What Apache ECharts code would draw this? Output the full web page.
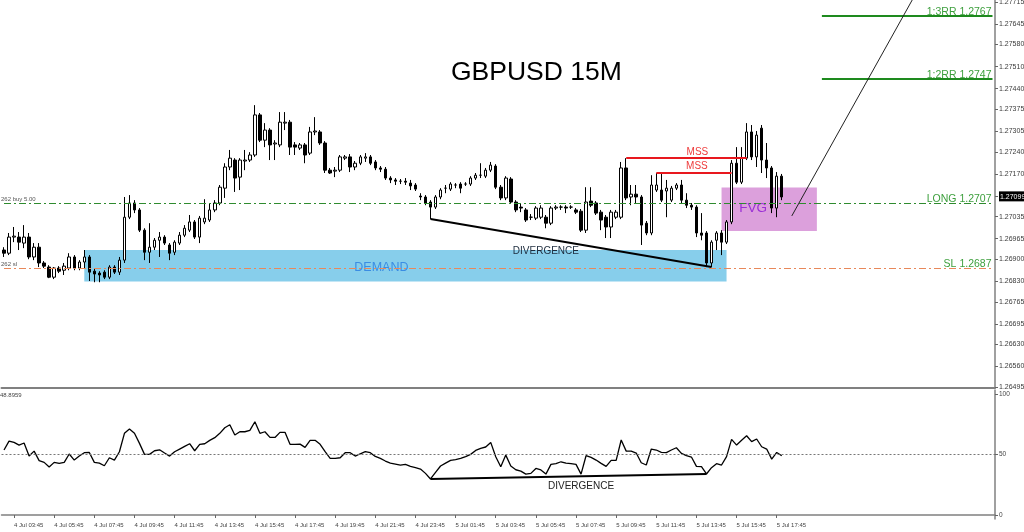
<!DOCTYPE html>
<html>
<head>
<meta charset="utf-8">
<script src="https://cdn.jsdelivr.net/npm/echarts@6/dist/echarts.min.js"></script>
<style>
  html, body { margin: 0; padding: 0; background: #fff; }
  #chart { width: 1024px; height: 532px; }
</style>
</head>
<body>
<div id="chart"></div>
<script>
// GBPUSD 15M bars from 4 Jul 03:15 to 5 Jul 18:00, each [open, close, low, high]
const candles = [
  [1.26929, 1.26919, 1.26907, 1.26938], [1.26919, 1.26970, 1.26913, 1.26983], [1.26970, 1.26973, 1.26954, 1.27002],
  [1.26970, 1.26954, 1.26929, 1.26986], [1.26951, 1.26970, 1.26935, 1.27008], [1.26970, 1.26907, 1.26900, 1.26983],
  [1.26907, 1.26938, 1.26897, 1.26951], [1.26938, 1.26888, 1.26875, 1.26951], [1.26888, 1.26878, 1.26872, 1.26894],
  [1.26875, 1.26843, 1.26840, 1.26881], [1.26843, 1.26872, 1.26837, 1.26875], [1.26872, 1.26862, 1.26856, 1.26878],
  [1.26865, 1.26878, 1.26850, 1.26888], [1.26872, 1.26907, 1.26865, 1.26919], [1.26907, 1.26872, 1.26865, 1.26913],
  [1.26872, 1.26891, 1.26865, 1.26897], [1.26891, 1.26907, 1.26872, 1.26929], [1.26907, 1.26859, 1.26831, 1.26913],
  [1.26862, 1.26853, 1.26827, 1.26869], [1.26856, 1.26850, 1.26827, 1.26862], [1.26859, 1.26843, 1.26837, 1.26865],
  [1.26843, 1.26875, 1.26837, 1.26881], [1.26875, 1.26859, 1.26853, 1.26881], [1.26859, 1.26897, 1.26850, 1.26907],
  [1.26897, 1.27033, 1.26888, 1.27097], [1.27033, 1.27078, 1.27027, 1.27103], [1.27078, 1.27056, 1.27046, 1.27087],
  [1.27056, 1.26992, 1.26986, 1.27062], [1.26992, 1.26922, 1.26897, 1.26998], [1.26922, 1.26938, 1.26888, 1.27014],
  [1.26938, 1.26960, 1.26929, 1.26967], [1.26960, 1.26970, 1.26907, 1.26986], [1.26970, 1.26951, 1.26945, 1.26976],
  [1.26945, 1.26919, 1.26897, 1.26951], [1.26922, 1.26954, 1.26913, 1.26960], [1.26951, 1.26976, 1.26945, 1.26986],
  [1.26976, 1.26998, 1.26970, 1.27008], [1.26992, 1.27018, 1.26986, 1.27040], [1.27018, 1.26970, 1.26964, 1.27024],
  [1.26970, 1.27030, 1.26951, 1.27037], [1.27018, 1.27030, 1.27011, 1.27090], [1.27024, 1.27056, 1.27018, 1.27078],
  [1.27056, 1.27078, 1.27049, 1.27087], [1.27078, 1.27128, 1.27071, 1.27135], [1.27125, 1.27192, 1.27094, 1.27204],
  [1.27192, 1.27220, 1.27182, 1.27246], [1.27214, 1.27157, 1.27113, 1.27220], [1.27160, 1.27214, 1.27119, 1.27220],
  [1.27211, 1.27214, 1.27182, 1.27246], [1.27214, 1.27230, 1.27208, 1.27239], [1.27230, 1.27357, 1.27224, 1.27388],
  [1.27357, 1.27277, 1.27271, 1.27363], [1.27277, 1.27309, 1.27255, 1.27331], [1.27309, 1.27262, 1.27214, 1.27315],
  [1.27265, 1.27268, 1.27214, 1.27277], [1.27262, 1.27334, 1.27255, 1.27366], [1.27331, 1.27334, 1.27309, 1.27366],
  [1.27334, 1.27255, 1.27230, 1.27341], [1.27262, 1.27255, 1.27230, 1.27271], [1.27252, 1.27262, 1.27246, 1.27268],
  [1.27262, 1.27230, 1.27204, 1.27268], [1.27236, 1.27303, 1.27230, 1.27319], [1.27303, 1.27306, 1.27293, 1.27350],
  [1.27303, 1.27268, 1.27262, 1.27309], [1.27268, 1.27182, 1.27173, 1.27274], [1.27182, 1.27173, 1.27170, 1.27189],
  [1.27179, 1.27182, 1.27160, 1.27192], [1.27182, 1.27224, 1.27176, 1.27230], [1.27220, 1.27224, 1.27214, 1.27230],
  [1.27224, 1.27192, 1.27176, 1.27233], [1.27192, 1.27204, 1.27182, 1.27211], [1.27204, 1.27224, 1.27198, 1.27230],
  [1.27220, 1.27224, 1.27208, 1.27236], [1.27224, 1.27204, 1.27198, 1.27230], [1.27208, 1.27189, 1.27182, 1.27214],
  [1.27189, 1.27185, 1.27176, 1.27195], [1.27185, 1.27157, 1.27151, 1.27192], [1.27157, 1.27151, 1.27141, 1.27163],
  [1.27151, 1.27147, 1.27135, 1.27157], [1.27147, 1.27147, 1.27138, 1.27154], [1.27147, 1.27144, 1.27135, 1.27157],
  [1.27141, 1.27132, 1.27119, 1.27151], [1.27135, 1.27122, 1.27116, 1.27141], [1.27100, 1.27097, 1.27087, 1.27109],
  [1.27097, 1.27078, 1.27071, 1.27103], [1.27081, 1.27065, 1.27027, 1.27087], [1.27065, 1.27097, 1.27059, 1.27103],
  [1.27097, 1.27119, 1.27090, 1.27125], [1.27125, 1.27125, 1.27109, 1.27135], [1.27122, 1.27138, 1.27116, 1.27144],
  [1.27135, 1.27135, 1.27125, 1.27141], [1.27138, 1.27125, 1.27109, 1.27144], [1.27138, 1.27138, 1.27132, 1.27144],
  [1.27138, 1.27157, 1.27132, 1.27163], [1.27157, 1.27166, 1.27151, 1.27173], [1.27166, 1.27166, 1.27157, 1.27204],
  [1.27163, 1.27182, 1.27157, 1.27189], [1.27182, 1.27198, 1.27176, 1.27208], [1.27195, 1.27128, 1.27122, 1.27201],
  [1.27128, 1.27094, 1.27087, 1.27135], [1.27094, 1.27157, 1.27087, 1.27163], [1.27154, 1.27081, 1.27075, 1.27160],
  [1.27081, 1.27056, 1.27049, 1.27087], [1.27065, 1.27062, 1.27049, 1.27078], [1.27056, 1.27024, 1.27018, 1.27062],
  [1.27033, 1.27033, 1.27024, 1.27043], [1.27030, 1.27062, 1.27024, 1.27068], [1.27033, 1.27062, 1.27027, 1.27071],
  [1.27033, 1.27014, 1.26998, 1.27040], [1.27014, 1.27062, 1.27008, 1.27068], [1.27062, 1.27065, 1.27056, 1.27071],
  [1.27065, 1.27065, 1.27056, 1.27071], [1.27065, 1.27062, 1.27046, 1.27071], [1.27065, 1.27065, 1.27059, 1.27071],
  [1.27056, 1.27049, 1.27043, 1.27062], [1.27052, 1.26992, 1.26986, 1.27059], [1.26992, 1.27081, 1.26983, 1.27128],
  [1.27084, 1.27071, 1.27065, 1.27128], [1.27078, 1.27046, 1.27040, 1.27084], [1.27049, 1.27024, 1.26992, 1.27056],
  [1.27033, 1.27002, 1.26967, 1.27040], [1.27002, 1.27049, 1.26967, 1.27056], [1.27033, 1.27049, 1.27027, 1.27056],
  [1.27033, 1.27189, 1.27027, 1.27208], [1.27189, 1.27094, 1.27087, 1.27220], [1.27097, 1.27106, 1.27071, 1.27135],
  [1.27106, 1.27097, 1.27078, 1.27135], [1.27097, 1.27008, 1.26945, 1.27103], [1.27014, 1.26983, 1.26976, 1.27021],
  [1.26983, 1.27135, 1.26976, 1.27166], [1.27119, 1.27135, 1.27113, 1.27173], [1.27119, 1.27087, 1.27081, 1.27170],
  [1.27116, 1.27125, 1.27033, 1.27151], [1.27087, 1.27125, 1.27081, 1.27132], [1.27125, 1.27135, 1.27119, 1.27141],
  [1.27135, 1.27087, 1.27078, 1.27151], [1.27087, 1.27071, 1.27062, 1.27109], [1.27071, 1.27065, 1.27056, 1.27078],
  [1.27065, 1.26983, 1.26970, 1.27071], [1.26983, 1.26976, 1.26960, 1.27046], [1.26983, 1.26888, 1.26875, 1.26989],
  [1.26888, 1.26954, 1.26875, 1.26960], [1.26960, 1.26983, 1.26929, 1.26989], [1.26983, 1.26954, 1.26913, 1.26992],
  [1.26954, 1.27018, 1.26948, 1.27024], [1.27018, 1.27204, 1.27011, 1.27214], [1.27204, 1.27144, 1.27138, 1.27255],
  [1.27144, 1.27220, 1.27138, 1.27255], [1.27220, 1.27303, 1.27214, 1.27331], [1.27303, 1.27224, 1.27214, 1.27325],
  [1.27224, 1.27293, 1.27192, 1.27306], [1.27315, 1.27214, 1.27173, 1.27325], [1.27214, 1.27189, 1.27157, 1.27268],
  [1.27189, 1.27062, 1.27046, 1.27195], [1.27062, 1.27163, 1.27033, 1.27176], [1.27163, 1.27097, 1.27087, 1.27170]
];

// RSI window, one value per bar
const rsi = [
  53.7, 61.1, 60.0, 57.8, 59.5, 48.7, 52.8, 44.9, 43.5, 39.6,
  43.5, 42.7, 43.5, 50.4, 45.4, 48.7, 51.5, 51.7, 43.5, 42.9,
  40.7, 47.3, 45.4, 52.3, 67.5, 71.0, 67.5, 59.2, 50.1, 50.1,
  53.1, 53.9, 51.2, 48.7, 52.3, 54.5, 56.7, 58.9, 53.1, 58.4,
  58.9, 61.7, 63.9, 67.5, 72.1, 74.6, 66.1, 68.8, 68.8, 69.9,
  77.1, 67.5, 68.8, 64.1, 64.1, 68.3, 68.3, 58.4, 58.4, 58.6,
  55.9, 61.7, 61.7, 58.4, 52.3, 46.8, 46.8, 47.3, 51.5, 51.5,
  48.7, 50.6, 52.3, 51.5, 48.4, 46.8, 44.6, 42.9, 42.1, 41.3,
  41.8, 40.2, 39.1, 38.0, 34.4, 29.8, 35.2, 40.5, 42.9, 45.1,
  45.7, 46.8, 48.2, 50.1, 53.4, 55.1, 56.2, 60.0, 48.2, 39.9,
  49.5, 40.5, 37.4, 36.3, 33.8, 34.4, 38.5, 37.2, 33.8, 41.8,
  42.4, 44.0, 42.9, 42.4, 41.8, 33.8, 49.0, 47.6, 45.4, 42.7,
  40.2, 45.1, 45.1, 62.0, 52.8, 52.8, 51.2, 43.2, 41.3, 54.5,
  53.7, 51.7, 51.5, 53.7, 55.6, 50.9, 49.0, 47.9, 40.2, 39.9,
  33.9, 39.1, 42.4, 41.3, 48.2, 62.5, 57.8, 61.7, 65.5, 60.6,
  62.8, 56.4, 54.5, 46.2, 51.7, 48.9
];

// axis labels as printed on the right scale
const priceTicks = [1.27715, 1.27645, 1.27580, 1.27510, 1.27440, 1.27375, 1.27305, 1.27240, 1.27170,
  1.27099, 1.27035, 1.26965, 1.26900, 1.26830, 1.26765, 1.26695, 1.26630, 1.26560, 1.26495];
const currentPrice = 1.27099;
const rsiTicks = [0, 50, 100];
const rsiLast = '48.8959';

// trade levels
const longPrice = 1.27077;
const slPrice = 1.2687;
const tp2 = 1.2747;
const tp3 = 1.2767;

// zones and swing points: [bar index, price]
const demandZone = [[16, 1.26929], [144, 1.26829]];
const fvgZone = [[143, 1.27127], [162, 1.26989]];
const mssHigh = [[124, 1.27220], [148, 1.27220]];
const mssLow = [[130, 1.27174], [145, 1.27174]];
const divPrice = [[85, 1.27027], [141, 1.26875]];
const divRsi = [[85, 29.8], [140, 33.9]];
const projection = [[157, 1.27037], [181, 1.27721]];

// time slots, 15 minutes apart, incl. empty space on the right
const times = [];
for (let i = 0; i < 198; i++) {
  const m = 3 * 60 + 15 + i * 15;
  const d = 4 + Math.floor(m / 1440);
  const mm = m % 1440;
  times.push(d + ' Jul ' + String(Math.floor(mm / 60)).padStart(2, '0') + ':' + String(mm % 60).padStart(2, '0'));
}
const showTime = (idx) => idx % 8 === 2 && idx <= 154;
const lastSlot = times.length - 1;

const font = 'Liberation Sans, Arial, sans-serif';
const green = '#3d9f3d';
const dashDot = [7, 3, 2, 3];

const chart = echarts.init(document.getElementById('chart'));

// horizontal order line across the whole window
function level(price, color, rightText, leftText) {
  return [
    [
      { coord: [0, price], lineStyle: { color: color, width: 1, type: dashDot },
        label: { show: true, position: 'insideEndTop', formatter: rightText, color: green, fontSize: 10.5, distance: [1, -1], fontFamily: font } },
      { coord: [lastSlot, price] }
    ],
    [
      { coord: [0, price], lineStyle: { color: color, width: 1, type: dashDot },
        label: { show: true, position: 'insideStartTop', formatter: leftText, color: '#555', fontSize: 6, distance: [-3, 1], fontFamily: font } },
      { coord: [lastSlot, price] }
    ]
  ];
}

const option = {
  animation: false,
  backgroundColor: '#fff',
  textStyle: { fontFamily: font },
  title: [
    {
      text: 'GBPUSD 15M', left: 451, top: 59, padding: 0,
      textStyle: { fontSize: 26.5, fontWeight: 'normal', color: '#000', fontFamily: font }
    },
    {
      text: rsiLast, left: 0, top: 392, padding: 0,
      textStyle: { fontSize: 6, fontWeight: 'normal', color: '#444', fontFamily: font }
    }
  ],
  grid: [
    { left: 1.5, width: 993.5, top: 0, height: 388, outerBoundsMode: 'none', containLabel: false },
    { left: 1.5, width: 993.5, top: 390, height: 129, outerBoundsMode: 'none', containLabel: false }
  ],
  xAxis: [
    {
      type: 'category', gridIndex: 0, data: times,
      axisLine: { show: true, lineStyle: { color: '#808080', width: 2 } },
      axisTick: { show: false }, axisLabel: { show: false }, splitLine: { show: false }
    },
    {
      type: 'category', gridIndex: 1, data: times,
      axisLine: { show: true, lineStyle: { color: '#808080', width: 1.5 } },
      axisTick: { show: true, interval: showTime, alignWithLabel: true, length: 3, lineStyle: { color: '#666' } },
      axisLabel: { interval: showTime, align: 'left', fontSize: 6, color: '#444', margin: 3, fontFamily: font },
      splitLine: { show: false }
    }
  ],
  yAxis: [
    {
      type: 'value', gridIndex: 0, position: 'right', min: 1.26492, max: 1.27721,
      axisLine: { show: true, lineStyle: { color: '#808080', width: 1.5 } },
      axisTick: { show: true, length: 3, customValues: priceTicks, lineStyle: { color: '#666' } },
      axisLabel: {
        customValues: priceTicks, fontSize: 7, color: '#3a3a3a', margin: 4, fontFamily: font,
        formatter: (v) => Math.abs(v - currentPrice) < 1e-7 ? '{cur|' + v.toFixed(5) + '}' : v.toFixed(5),
        rich: { cur: { backgroundColor: '#000', color: '#fff', fontSize: 7, padding: [2, 1, 1, 1], fontFamily: font } }
      },
      splitLine: { show: false }
    },
    {
      type: 'value', gridIndex: 1, position: 'right', min: -3.3, max: 103.3,
      axisLine: { show: true, lineStyle: { color: '#808080', width: 1.5 } },
      axisTick: { show: true, length: 3, customValues: rsiTicks, lineStyle: { color: '#666' } },
      axisLabel: { customValues: rsiTicks, fontSize: 6.5, color: '#444', margin: 4, fontFamily: font },
      splitLine: { show: false }
    }
  ],
  series: [
    {
      type: 'candlestick', xAxisIndex: 0, yAxisIndex: 0,
      data: candles, barWidth: 3,
      itemStyle: { color: '#fff', color0: '#000', borderColor: '#000', borderColor0: '#000', borderWidth: 1 },
      markArea: {
        silent: true,
        data: [
          [
            { coord: demandZone[0], itemStyle: { color: '#87ceeb', opacity: 1 },
              label: { show: true, position: 'inside', formatter: 'DEMAND', color: '#3a8de3', fontSize: 12.5, offset: [-24, 1.5], fontFamily: font } },
            { coord: demandZone[1] }
          ],
          [
            { coord: fvgZone[0], itemStyle: { color: '#dca0dc', opacity: 1 },
              label: { show: true, position: 'inside', formatter: 'FVG', color: '#9b30d6', fontSize: 13.5, offset: [-16, -1], fontFamily: font } },
            { coord: fvgZone[1] }
          ]
        ]
      },
      markLine: {
        silent: true,
        symbol: ['none', 'none'],
        data: [
          ...level(longPrice, '#2e8b2e', 'LONG 1.2707', '262 buy 5.00'),
          ...level(slPrice, '#e8885a', 'SL 1.2687', '262 sl'),
          [
            { coord: [163, tp3], lineStyle: { color: '#1e8a1e', width: 2, type: 'solid' },
              label: { show: true, position: 'insideEndTop', formatter: '1:3RR 1.2767', color: green, fontSize: 10.5, distance: [1, -1.5], fontFamily: font } },
            { coord: [lastSlot, tp3] }
          ],
          [
            { coord: [163, tp2], lineStyle: { color: '#1e8a1e', width: 2, type: 'solid' },
              label: { show: true, position: 'insideEndTop', formatter: '1:2RR 1.2747', color: green, fontSize: 10.5, distance: [1, -1.5], fontFamily: font } },
            { coord: [lastSlot, tp2] }
          ],
          [
            { coord: mssHigh[0], lineStyle: { color: '#e8181e', width: 2, type: 'solid' },
              label: { show: true, position: 'middle', formatter: 'MSS', color: '#ee3b3b', fontSize: 10, distance: 1, offset: [11, 0], fontFamily: font } },
            { coord: mssHigh[1] }
          ],
          [
            { coord: mssLow[0], lineStyle: { color: '#e8181e', width: 2, type: 'solid' },
              label: { show: true, position: 'middle', formatter: 'MSS', color: '#ee3b3b', fontSize: 10, distance: 1, offset: [3, 0], fontFamily: font } },
            { coord: mssLow[1] }
          ],
          [
            { coord: divPrice[0], lineStyle: { color: '#000', width: 2, type: 'solid' }, label: { show: false } },
            { coord: divPrice[1] }
          ],
          [
            { coord: projection[0], lineStyle: { color: '#222', width: 1, type: 'solid' }, label: { show: false } },
            { coord: projection[1] }
          ]
        ]
      },
      markPoint: {
        silent: true,
        symbol: 'circle', symbolSize: 0,
        data: [
          { coord: [108, 1.26926], label: { show: true, position: 'inside', formatter: 'DIVERGENCE', color: '#1c2b3c', fontSize: 10, fontFamily: font } }
        ]
      }
    },
    {
      type: 'line', xAxisIndex: 1, yAxisIndex: 1,
      data: rsi, symbol: 'none',
      lineStyle: { color: '#000', width: 1.3 },
      markLine: {
        silent: true,
        symbol: ['none', 'none'],
        data: [
          { yAxis: 50, lineStyle: { color: '#777', width: 1, type: [2, 2] }, label: { show: false } },
          [
            { coord: divRsi[0], lineStyle: { color: '#000', width: 2, type: 'solid' }, label: { show: false } },
            { coord: divRsi[1] }
          ]
        ]
      },
      markPoint: {
        silent: true,
        symbol: 'circle', symbolSize: 0,
        data: [
          { coord: [115, 24.0], label: { show: true, position: 'inside', formatter: 'DIVERGENCE', color: '#222', fontSize: 10, fontFamily: font } }
        ]
      }
    }
  ]
};

chart.setOption(option);
</script>
</body>
</html>
